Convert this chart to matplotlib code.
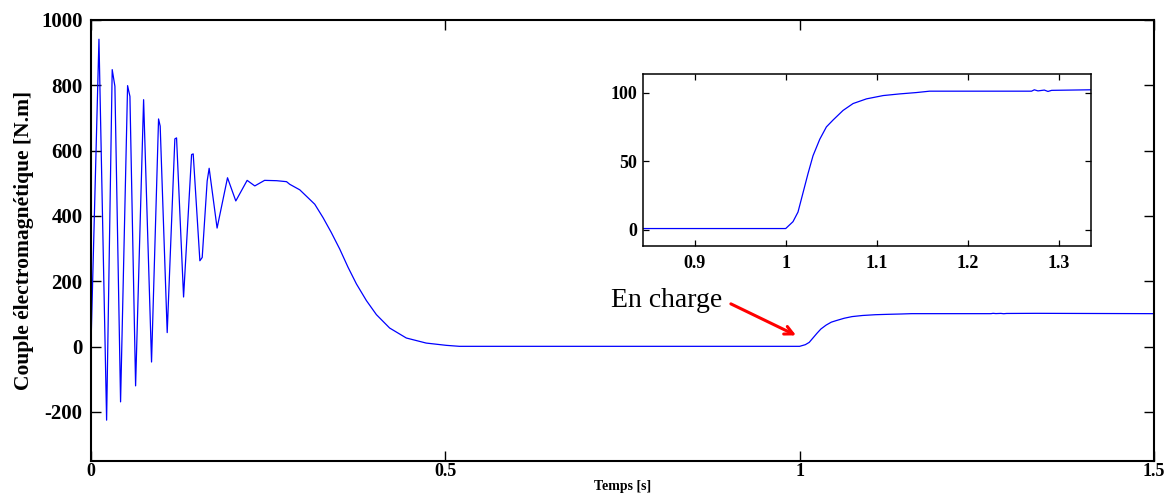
import matplotlib
matplotlib.use("Agg")
import matplotlib.pyplot as plt
import numpy as np

# Time (s) and electromagnetic torque (N.m)
temps = [0.000, 0.0113, 0.0221, 0.0300, 0.0338, 0.0418, 0.0517, 0.0550, 0.0630,
         0.0743, 0.0855, 0.0954, 0.0977, 0.1076, 0.1184, 0.1208, 0.1307, 0.1420,
         0.1443, 0.1537, 0.1570, 0.1640, 0.1668, 0.1780, 0.1927, 0.2044, 0.2204,
         0.2312, 0.2450, 0.2620, 0.2760, 0.2805, 0.2947, 0.3158, 0.3275, 0.3390,
         0.3510, 0.3628, 0.3746, 0.3887, 0.4028, 0.4215, 0.4450, 0.4730, 0.5015,
         0.5200, 1.0000, 1.0080, 1.0135, 1.0190, 1.0245, 1.0300, 1.0374, 1.0447,
         1.0520, 1.0630, 1.0740, 1.0887, 1.1070, 1.1250, 1.1436, 1.1580, 1.2700,
         1.2730, 1.2770, 1.2840, 1.2880, 1.2920, 1.3340, 1.5000]
couple = [0, 941, -225, 848, 797, -169, 799, 766, -120,
          756, -47, 697, 675, 43, 636, 639, 152, 588,
          590, 263, 273, 507, 546, 363, 517, 446, 509,
          492, 509, 508, 505, 497, 480, 436, 395, 350,
          299, 243, 192, 141, 98, 57, 26.5, 11, 4,
          1, 1, 6, 13, 27, 41, 54, 66, 75,
          80, 87, 92, 95.4, 97.8, 99, 100, 101, 101,
          102, 101.2, 101.8, 100.8, 101.6, 102, 101]

main_xticks = [0, 0.5, 1, 1.5]
main_xticklabels = ["0", "0.5", "1", "1.5"]
main_yticks = [-200, 0, 200, 400, 600, 800, 1000]
inset_xticks = [0.9, 1.0, 1.1, 1.2, 1.3]
inset_xticklabels = ["0.9", "1", "1.1", "1.2", "1.3"]
inset_yticks = [0, 50, 100]

plt.rcParams['font.family'] = ['Liberation Serif', 'DejaVu Serif']
plt.rcParams['axes.unicode_minus'] = False

fig = plt.figure(figsize=(11.72, 4.94), dpi=100)
ax = fig.add_axes([0.0776, 0.0668, 0.907, 0.8928])
ax.plot(temps, couple, color='#0000ff', lw=0.9)
ax.set_xlim(0, 1.5)
ax.set_ylim(-350, 1000)
ax.set_xticks(main_xticks)
ax.set_xticklabels(main_xticklabels)
ax.set_yticks(main_yticks)
ax.tick_params(direction='in', top=True, right=True, length=7, width=1.0)
ax.tick_params(axis='y', labelsize=15, pad=6)
ax.tick_params(axis='x', labelsize=13, pad=1.5)
for lab in ax.get_xticklabels() + ax.get_yticklabels():
    lab.set_fontweight('bold')
for s in ax.spines.values():
    s.set_linewidth(1.5)
ax.set_xlabel("Temps [s]", fontsize=10, fontweight='bold', labelpad=0)
ax.set_ylabel("Couple électromagnétique [N.m]", fontsize=15.5, fontweight='bold', labelpad=5)

ax.text(0.7345, 122, "En charge", fontsize=20, ha='left', va='baseline')
ax.annotate("", xy=(0.995, 34.5), xytext=(0.903, 131),
            arrowprops=dict(arrowstyle='->,head_length=0.6,head_width=0.3',
                            color='red', lw=2.2, shrinkA=0, shrinkB=0))

ins = fig.add_axes([0.5484, 0.5026, 0.3823, 0.3476])
ins.plot(temps, couple, color='#0000ff', lw=0.9)
ins.set_xlim(0.843, 1.335)
ins.set_ylim(-11.5, 113.5)
ins.set_xticks(inset_xticks)
ins.set_xticklabels(inset_xticklabels)
ins.set_yticks(inset_yticks)
ins.tick_params(direction='in', top=True, right=True, length=4, width=0.9, labelsize=13)
ins.tick_params(axis='x', pad=7)
ins.tick_params(axis='y', pad=4)
for lab in ins.get_xticklabels() + ins.get_yticklabels():
    lab.set_fontweight('bold')
for s in ins.spines.values():
    s.set_linewidth(1.1)

fig.savefig("out.png", dpi=100)
